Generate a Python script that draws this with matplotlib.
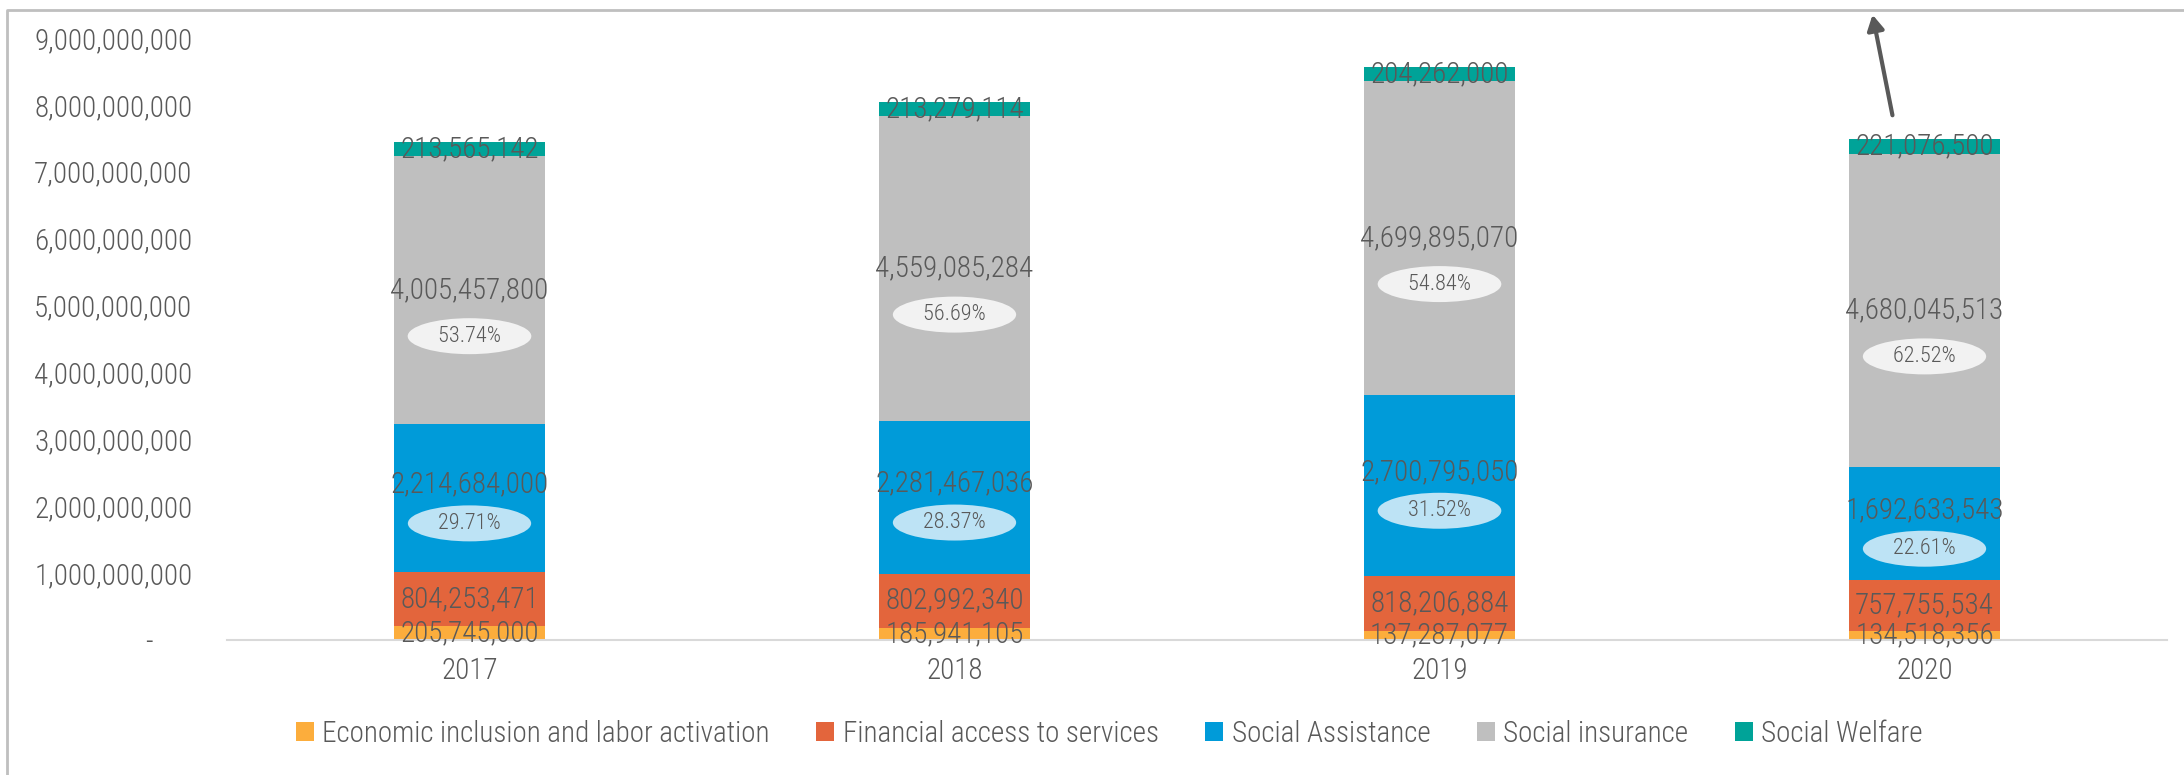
import matplotlib
matplotlib.use("Agg")
import matplotlib.pyplot as plt
from matplotlib import font_manager
from matplotlib.lines import Line2D
from matplotlib.ticker import FuncFormatter
import numpy as np

# pick a condensed font if one is installed
names = {f.name for f in font_manager.fontManager.ttflist}
fam = [n for n in ['Liberation Sans Narrow', 'Roboto Condensed', 'DejaVu Sans Condensed'] if n in names]
plt.rcParams['font.family'] = fam + ['DejaVu Sans']
plt.rcParams['font.weight'] = 'light'

years = ['2017', '2018', '2019', '2020']
economic = [205745000, 185941105, 137287077, 134518356]
financial = [804253471, 802992340, 818206884, 757755534]
assistance = [2214684000, 2281467036, 2700795050, 1692633543]
insurance = [4005457800, 4559085284, 4699895070, 4680045513]
welfare = [213565142, 213279114, 204262000, 221076500]
pct_insurance = ['53.74%', '56.69%', '54.84%', '62.52%']
pct_assistance = ['29.71%', '28.37%', '31.52%', '22.61%']

series = [
    ('Economic inclusion and labor activation', economic, '#FCAD3C'),
    ('Financial access to services', financial, '#E3653C'),
    ('Social Assistance', assistance, '#009BD9'),
    ('Social insurance', insurance, '#BFBFBF'),
    ('Social Welfare', welfare, '#00A398'),
]

txt = '#595959'
fig = plt.figure(figsize=(21.84, 7.75), dpi=100)
ax = fig.add_axes([227/2184, 1-640/775, (2167-227)/2184, (640-38)/775])

x = np.arange(len(years))
bottom = np.zeros(len(years))
for name, vals, col in series:
    vals = np.array(vals, dtype=float)
    ax.bar(x, vals, 0.31, bottom=bottom, color=col, label=name, zorder=2)
    mid = bottom + vals / 2
    for i in range(len(x)):
        dy = 0
        if name == 'Social Assistance':
            dy = 10
        ax.annotate(f"{int(vals[i]):,}", (x[i], mid[i]), xytext=(0, dy), textcoords='offset points',
                    ha='center', va='center', fontsize=21, color=txt, zorder=4)
        # percent share in an ellipse under the value
        if name == 'Social insurance':
            ax.annotate('  ' + pct_insurance[i] + '  ', (x[i], mid[i]), xytext=(0, -33),
                        textcoords='offset points', ha='center', va='center', fontsize=16,
                        color=txt, zorder=4,
                        bbox=dict(boxstyle='ellipse,pad=0.1', fc='#F2F2F2', ec='none'))
        if name == 'Social Assistance':
            ax.annotate('  ' + pct_assistance[i] + '  ', (x[i], mid[i]), xytext=(0, -18),
                        textcoords='offset points', ha='center', va='center', fontsize=16,
                        color=txt, zorder=4,
                        bbox=dict(boxstyle='ellipse,pad=0.1', fc='#BDE3F5', ec='none'))
    bottom = bottom + vals

ax.set_xlim(-0.5, 3.5)
ax.set_ylim(0, 9.0e9)
ax.set_xticks(x)
ax.set_xticklabels(years)
ax.set_yticks(np.arange(0, 9.01e9, 1e9))
ax.yaxis.set_major_formatter(FuncFormatter(lambda v, p: '-      ' if v == 0 else f"{int(v):,}"))
ax.tick_params(axis='both', length=0, labelsize=21, labelcolor=txt)
ax.tick_params(axis='y', pad=25)
ax.tick_params(axis='x', pad=12)
for s in ['top', 'right', 'left']:
    ax.spines[s].set_visible(False)
ax.spines['bottom'].set_color('#D9D9D9')
ax.spines['bottom'].set_linewidth(1.5)

fig.legend(loc='center', bbox_to_anchor=(0.508, 1-734/775), ncol=5, frameon=False,
           fontsize=21, labelcolor=txt, handlelength=0.6, handleheight=0.6,
           handletextpad=0.3, columnspacing=1.6)

# frame around the chart area (left and top edges are visible)
fig.add_artist(Line2D([7/2184, 7/2184, 1], [0, 1-10/775, 1-10/775], color='#BFBFBF', lw=2,
                      transform=fig.transFigure))

# arrow pointing up to the top edge
ax.annotate('', xy=(1872/2184, 1-12/775), xytext=(1893/2184, 1-118/775),
            xycoords='figure fraction', textcoords='figure fraction',
            arrowprops=dict(arrowstyle='-|>,head_width=0.5,head_length=0.9', color=txt, lw=3))

fig.savefig('out.png', dpi=100)
